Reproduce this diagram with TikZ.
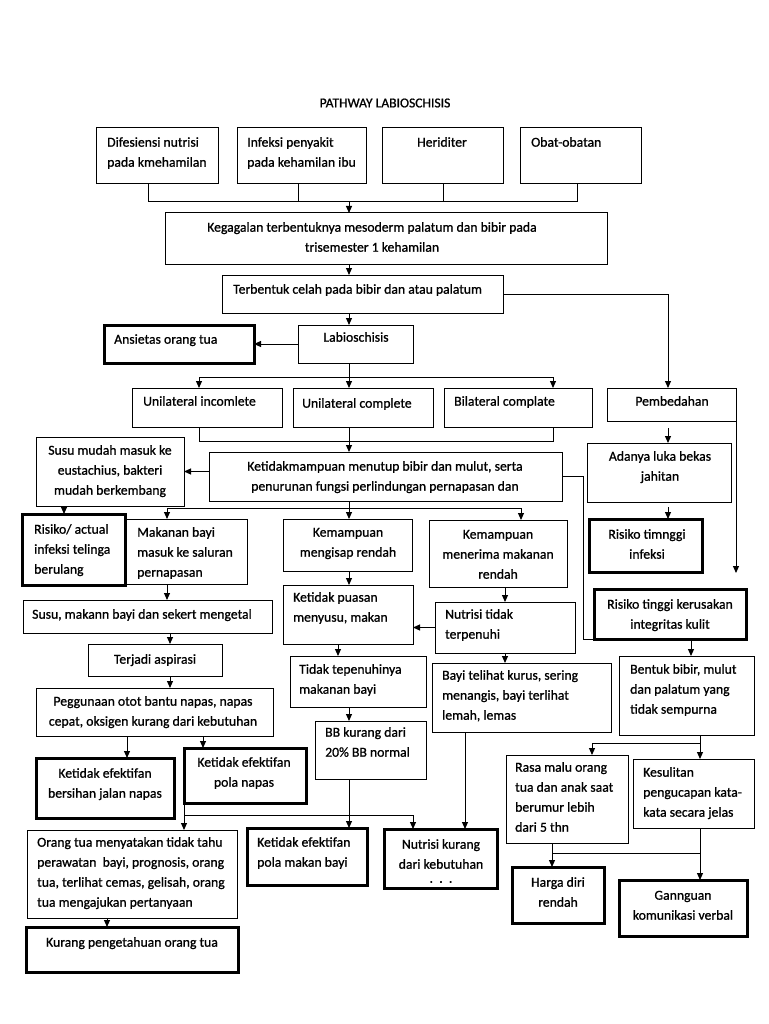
\documentclass[tikz,border=0pt]{standalone}
\usepackage{fontspec}
\setmainfont{Carlito}[FakeBold=0.9]
\usetikzlibrary{arrows.meta}
\newcommand\FS{\fontsize{13.7}{20}\selectfont}
\newcommand\Bx[6][box]{\node[#1,anchor=north west,minimum width={(#5)-(#3)},minimum height={(#6)-(#4)}] (#2) at (#3,#4) {};}
\newcommand\TxL[4]{\node[txt,align=left,anchor=north west] (#1) at (#2,#3-10.5) {\strut #4};}
\newcommand\TxC[4]{\node[txt,align=center,anchor=north] (#1) at (#2,#3-10.5) {\strut #4};}
\begin{document}
\begin{tikzpicture}[x=1pt,y=-1pt,
  box/.style={draw,line width=1pt,inner sep=0pt,outer sep=0pt},
  tbox/.style={draw,line width=3pt,inner sep=0pt,outer sep=0pt},
  txt/.style={inner sep=0pt,font=\FS},
  ln/.style={line width=1pt},
  arr/.style={ln,-{Triangle[length=7pt,width=6pt]}}]
\fill[white] (0,0) rectangle (768,1024);
\useasboundingbox (0,0) rectangle (768,1024);

\node[inner sep=0pt,font=\fontsize{13.6}{15}\selectfont] (title) at (385,103) {PATHWAY LABIOSCHISIS};

% boxes
\Bx{b1}{96}{128}{218}{184}
\Bx{b2}{237}{128}{366}{184}
\Bx{b3}{382}{128}{503}{184}
\Bx{b4}{520}{128}{641}{184}
\Bx{kg}{165}{213}{607}{264}
\Bx{tb}{222}{275}{503}{313}
\Bx{lb}{298}{325}{413}{363}
\Bx[tbox]{an}{104}{325}{254}{363}
\Bx{u1}{132}{388}{282}{427}
\Bx{u2}{293}{388}{433}{427}
\Bx{u3}{444}{388}{592}{427}
\Bx{pb}{607}{388}{736}{421}
\Bx{ad}{587}{443}{731}{502}
\Bx[tbox]{ri}{589}{519}{702}{572}
\Bx[tbox]{rk}{594}{589}{746}{639}
\Bx{km}{209}{452}{562}{501}
\Bx{su}{36}{437}{184}{506}
\Bx[tbox]{r1}{22}{514}{125}{585}
\Bx{mb}{125}{519}{247}{584}
\Bx{kmr}{283}{519}{412}{571}
\Bx{kmm}{429}{520}{567}{587}
\Bx{kp}{283}{585}{413}{644}
\Bx{nt}{435}{602}{575}{653}
\Bx{sm}{23}{600}{272}{633}
\Bx{ta}{88}{644}{222}{676}
\Bx{pg}{36}{688}{273}{736}
\Bx[tbox]{kb}{36}{758}{174}{818}
\Bx[tbox]{pn}{184}{748}{306}{803}
\Bx{tt}{290}{656}{426}{707}
\Bx{bb}{315}{721}{426}{779}
\Bx{bt}{432}{663}{611}{732}
\Bx{bn}{619}{656}{754}{735}
\Bx{rm}{506}{755}{628}{843}
\Bx{ks}{633}{759}{754}{828}
\Bx[tbox]{kepm}{247}{828}{367}{885}
\Bx[tbox]{nk}{384}{829}{497}{888}
\Bx{ot}{27}{830}{237}{918}
\Bx[tbox]{kp2}{26}{927}{238}{972}
\Bx[tbox]{hd}{512}{867}{604}{923}
\Bx[tbox]{gk}{619}{880}{747}{936}

% texts
\TxL{b1t}{107}{143}{Difesiensi nutrisi\\pada kmehamilan}
\TxL{b2t}{247}{143}{Infeksi penyakit\\pada kehamilan ibu}
\TxC{b3t}{442}{143}{Heriditer}
\TxL{b4t}{531}{143}{Obat-obatan}
\TxC{kgt}{372}{228}{Kegagalan terbentuknya mesoderm palatum dan bibir pada\\trisemester 1 kehamilan}
\TxL{tbt}{233}{290}{Terbentuk celah pada bibir dan atau palatum}
\TxC{lbt}{356}{338}{Labioschisis}
\TxL{ant}{114}{340}{Ansietas orang tua}
\TxL{u1t}{143}{402}{Unilateral incomlete}
\TxL{u2t}{302}{404}{Unilateral complete}
\TxL{u3t}{454}{402}{Bilateral complate}
\TxC{pbt}{672}{402}{Pembedahan}
\TxC{adt}{660}{457}{Adanya luka bekas\\jahitan}
\TxC{rit}{647}{535}{Risiko timnggi\\infeksi}
\TxC{rkt}{670}{605}{Risiko tinggi kerusakan\\integritas kulit}
\TxC{kmt}{385}{467}{Ketidakmampuan menutup bibir dan mulut, serta\\penurunan fungsi perlindungan pernapasan dan}
\TxC{sut}{110}{451}{Susu mudah masuk ke\\eustachius, bakteri\\mudah berkembang}
\TxL{r1t}{34}{530}{Risiko/ actual\\infeksi telinga\\berulang}
\TxL{mbt}{137}{533}{Makanan bayi\\masuk ke saluran\\pernapasan}
\TxC{kmrt}{348}{533}{Kemampuan\\mengisap rendah}
\TxC{kmmt}{498}{535}{Kemampuan\\menerima makanan\\rendah}
\TxL{kpt}{293}{598}{Ketidak puasan\\menyusu, makan}
\TxL{ntt}{445}{615}{Nutrisi tidak\\terpenuhi}
\TxL{smt}{32}{615}{Susu, makann bayi dan sekert mengetal}
\TxC{tat}{155}{660}{Terjadi aspirasi}
\TxC{pgt}{153}{702}{Peggunaan otot bantu napas, napas\\cepat, oksigen kurang dari kebutuhan}
\TxC{kbt}{105}{774}{Ketidak efektifan\\bersihan jalan napas}
\TxC{pnt}{244}{763}{Ketidak efektifan\\pola napas}
\TxL{ttt}{299}{670}{Tidak tepenuhinya\\makanan bayi}
\TxL{bbt}{325}{733}{BB kurang dari\\20\% BB normal}
\TxL{btt}{442}{676}{Bayi telihat kurus, sering\\menangis, bayi terlihat\\lemah, lemas}
\TxL{bnt}{630}{670}{Bentuk bibir, mulut\\dan palatum yang\\tidak sempurna}
\TxL{rmt}{515}{768}{Rasa malu orang\\tua dan anak saat\\berumur lebih\\dari 5 thn}
\TxL{kst}{643}{773}{Kesulitan\\pengucapan kata-\\kata secara jelas}
\TxL{kepmt}{257}{843}{Ketidak efektifan\\pola makan bayi}
\TxC{nkt}{441}{845}{Nutrisi kurang\\dari kebutuhan}
\TxC{nkd}{441}{879}{.\ \ .\ \ .}
\TxL{ott}{37}{843}{Orang tua menyatakan tidak tahu\\perawatan\ \ bayi, prognosis, orang\\tua, terlihat cemas, gelisah, orang\\tua mengajukan pertanyaan}
\TxC{kp2t}{132}{943}{Kurang pengetahuan orang tua}
\TxC{hdt}{558}{883}{Harga diri\\rendah}
\TxC{gkt}{683}{896}{Gannguan\\komunikasi verbal}

% axes
\coordinate (jn) at (349,202);
\coordinate (X64) at (64,0);
\coordinate (X107) at (107,0);
\coordinate (X127) at (127,0);
\coordinate (X148) at (148,0);
\coordinate (X167) at (167,0);
\coordinate (X170) at (170,0);
\coordinate (X199) at (199,0);
\coordinate (X203) at (203,0);
\coordinate (X298) at (298,0);
\coordinate (X338) at (338,0);
\coordinate (X413) at (413,0);
\coordinate (X443) at (443,0);
\coordinate (X465) at (465,0);
\coordinate (X505) at (505,0);
\coordinate (X521) at (521,0);
\coordinate (X552) at (552,0);
\coordinate (X553) at (553,0);
\coordinate (X577) at (577,0);
\coordinate (X592) at (592,0);
\coordinate (X668) at (668,0);
\coordinate (X691) at (691,0);
\coordinate (X700) at (700,0);

% connectors
\draw[ln] (b1.south -| X148) -- ++(0,18) -| (b4.south -| X577);
\draw[ln] (b2.south -| X298) -- ++(0,18);
\draw[ln] (b3.south -| X443) -- ++(0,18);
\draw[arr] (jn) -- (kg.north -| jn);
\draw[arr] (kg.south -| jn) -- (tb.north -| jn);
\draw[arr] (tb.east) -| (pb.north -| X668);
\draw[arr] (tb.south -| jn) -- (lb.north -| jn);
\draw[arr] (lb.west) -- (an.east);
\draw[ln] (lb.south -| jn) -- ++(0,14) coordinate (ju);
\draw[arr] (ju) -- (u2.north -| jn);
\draw[arr] (ju) -| (u1.north -| X199);
\draw[arr] (ju) -| (u3.north -| X553);
\draw[ln] (u1.south -| X199) -- ++(0,14) -| (u3.south -| X553);
\draw[arr] (u2.south -| jn) -- (km.north -| jn);
\draw[arr] (pb.south -| X668) ++(0,7) -- (ad.north -| X668);
\coordinate (pfree) at (736,573);
\draw[arr] (pb.south east) -- (pfree);
\draw[arr] (ad.south -| X668) ++(0,5) -- (ri.north -| X668);
\draw[ln] (km.east) -- ++(21,0) |- (rk.south west);
\draw[arr] (rk.south -| X691) -- (bn.north -| X691);
\draw[arr] (km.west |- su.east) -- (su.east);
\coordinate (jk) at (349,508);
\draw[ln] (km.south -| jk) -- (jk);
\draw[arr] (jk) -| (mb.north -| X167);
\draw[arr] (jk) -| (kmm.north -| X521);
\draw[arr] (jk) -- (kmr.north -| jk);
\draw[arr] (su.south -| X64) -- (r1.north -| X64);
\draw[arr] (mb.south -| X167) -- (sm.north -| X167);
\draw[arr] (sm.south -| X170) -- (ta.north -| X170);
\draw[arr] (ta.south -| X170) -- (pg.north -| X170);
\draw[arr] (pg.south -| X127) -- (kb.north -| X127);
\draw[arr] (pg.south -| X203) -- (pn.north -| X203);
\draw[arr] (kmr.south -| jn) -- (kp.north -| jn);
\draw[arr] (nt.west) -- (nt.west -| kp.east);
\draw[arr] (kmm.south -| X505) -- (nt.north -| X505);
\draw[arr] (nt.south -| X505) -- (bt.north -| X505);
\draw[arr] (kp.south -| X338) -- (tt.north -| X338);
\draw[arr] (tt.south -| jn) -- (bb.north -| jn);
\draw[arr] (bb.south -| jn) -- (kepm.north -| jn);
\draw[arr] (bt.south -| X465) -- (nk.north -| X465);
\draw[arr] (pn.south west) -- (ot.north -| pn.south west);
\coordinate (jp) at (184,815);
\draw[arr] (jp) -| (nk.north -| X413);
\draw[arr] (bn.south -| X700) -- (ks.north -| X700);
\coordinate (jb) at (700,743);
\draw[arr] (jb) -| (rm.north -| X592);
\draw[arr] (rm.south -| X552) -- (hd.north -| X552);
\draw[arr] (ks.south -| X700) -- (gk.north -| X700);
\coordinate (jh) at (552,853);
\draw[ln] (jh) -- (jh -| X700);
\draw[arr] (ot.south -| X107) -- (kp2.north -| X107);
\end{tikzpicture}
\end{document}
